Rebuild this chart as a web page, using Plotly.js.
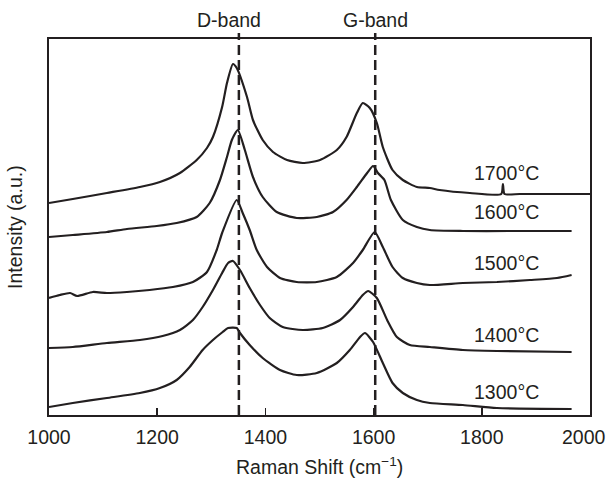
<!DOCTYPE html>
<html>
<head>
<meta charset="utf-8">
<script src="https://cdn.plot.ly/plotly-3.0.1.min.js"></script>
<style>html,body{margin:0;padding:0;background:#fff;}#chart{width:608px;height:479px;}</style>
</head>
<body>
<div id="chart"></div>
<script>
// Raman shift (cm-1) and intensity (a.u., stacked)
const x1700 = [1000,1044,1107,1168,1205,1242,1273,1292,1303,1320,1329,1340,1347,1366,1377,1395,1414,1440,1469,1501,1532,1550,1569,1580,1593,1606,1617,1635,1654,1680,1704,1722,1778,1836,1839,1842,1870,1940,2000];
const y1700 = [210,214,220,226,231,240,253,265,276,306,330,349,345,316,293,273,261,253,250,253,263,276,300,310,305,290,266,243,233,226,225,223,220,219,229,219,219,219,219];

const x1600 = [1000,1044,1107,1144,1199,1236,1273,1297,1316,1329,1338,1349,1362,1377,1395,1421,1458,1495,1525,1550,1569,1588,1599,1608,1620,1632,1654,1680,1704,1765,1850,1966];
const y1600 = [176,178,181,184,187,190,196,210,233,256,273,283,263,236,216,201,195,196,201,213,226,240,247,240,233,213,193,186,183,182,182,182];

const x1500 = [1000,1020,1039,1052,1081,1107,1144,1186,1229,1266,1292,1310,1320,1347,1358,1371,1384,1403,1427,1458,1495,1532,1562,1580,1602,1617,1635,1654,1680,1704,1765,1828,1889,1939,1966];
const y1500 = [115,118,120,117,121,120,121,123,126,131,141,163,180,213,200,183,163,146,135,131,131,136,150,163,181,166,146,135,130,128,130,131,133,135,138];

const x1400 = [1000,1044,1107,1168,1210,1242,1266,1284,1303,1320,1331,1340,1353,1371,1390,1408,1432,1469,1506,1538,1562,1580,1590,1606,1625,1643,1667,1704,1765,1828,1966];
const y1400 = [65,66,70,73,77,83,93,106,123,140,150,152,143,125,108,95,86,83,85,93,106,118,122,115,93,76,68,66,63,62,61];

const x1300 = [1000,1044,1107,1168,1205,1236,1260,1284,1303,1321,1331,1347,1353,1371,1395,1427,1458,1495,1532,1556,1575,1584,1599,1617,1635,1654,1680,1704,1765,1828,1966];
const y1300 = [6,10,15,20,25,33,46,63,73,81,85,85,80,68,55,43,38,40,50,63,76,80,71,50,30,20,13,10,8,5,4];

const seriesNames = ["1700°C","1600°C","1500°C","1400°C","1300°C"];
const labelX = [1846,1846,1846,1846,1846];
const labelY = [240,201,150,78,21];
const bandNames = ["D-band","G-band"];
const bandPos = [1351,1603];
const bandLabelX = [1332,1603];
const xTicks = [1000,1200,1400,1600,1800,2000];
const xTickText = ["1000","1200","1400","1600","1800","2000"];
const xTitle = "Raman Shift (cm<sup>−1</sup>)";
const yTitle = "Intensity (a.u.)";

const xs = [x1700,x1600,x1500,x1400,x1300];
const ys = [y1700,y1600,y1500,y1400,y1300];
const ink = "#231f20";
const FONT = "Liberation Sans, Arial, sans-serif";
const FS = 19.5;

const traces = xs.map((xv,i)=>({
  x: xv, y: ys[i], type: "scatter", mode: "lines", name: seriesNames[i],
  line: {color: ink, width: 2.2, shape: "spline", smoothing: 0.6},
  hoverinfo: "skip"
}));

const lastTick = xTicks.length - 1;
const annotations = seriesNames.map((n,i)=>({
  x: labelX[i], y: labelY[i], xref: "x", yref: "y", text: n, showarrow: false,
  font: {family: FONT, size: FS, color: ink}, xanchor: "center", yanchor: "middle"
})).concat(bandNames.map((n,i)=>({
  x: bandLabelX[i], y: 1.05, xref: "x", yref: "paper", text: n, showarrow: false,
  font: {family: FONT, size: FS, color: ink}, xanchor: "center", yanchor: "middle"
}))).concat([
  {x: 0.5, y: -0.136, xref: "paper", yref: "paper", text: xTitle, showarrow: false,
   font: {family: FONT, size: FS, color: ink}, xanchor: "center", yanchor: "middle"},
  {x: -0.063, y: 0.5, xref: "paper", yref: "paper", text: yTitle, showarrow: false, textangle: -90,
   font: {family: FONT, size: FS, color: ink}, xanchor: "center", yanchor: "middle"},
  // last tick label, nudged left so it stays inside the page
  {x: xTicks[lastTick], y: -0.058, xref: "x", yref: "paper", text: xTickText[lastTick], showarrow: false,
   font: {family: FONT, size: FS, color: ink}, xanchor: "center", yanchor: "middle", xshift: -6}
]);

const shapes = bandPos.map(p=>({
  type: "line", xref: "x", yref: "paper", x0: p, x1: p, y0: 0, y1: 1.016,
  line: {color: ink, width: 2.5, dash: "10px,5px"}
}));

const layout = {
  width: 608, height: 479,
  margin: {l: 49, r: 18, t: 39, b: 64},
  paper_bgcolor: "#fff", plot_bgcolor: "#fff",
  showlegend: false,
  font: {family: FONT, size: FS, color: ink},
  xaxis: {
    range: [999.99, 2000.01], tickvals: xTicks,
    ticktext: xTickText.map((t,i)=> i === lastTick ? "" : t),
    ticks: "inside", ticklen: 7, tickwidth: 1.5, tickcolor: ink,
    showline: true, linecolor: ink, linewidth: 2, mirror: true,
    showgrid: false, zeroline: false, ticklabelstandoff: 4,
    tickfont: {family: FONT, size: FS, color: ink}
  },
  yaxis: {
    range: [-2, 374], showticklabels: false, ticks: "",
    showline: true, linecolor: ink, linewidth: 2, mirror: true,
    showgrid: false, zeroline: false
  },
  annotations: annotations,
  shapes: shapes
};

Plotly.newPlot("chart", traces, layout, {staticPlot: true, displayModeBar: false});
</script>
</body>
</html>
